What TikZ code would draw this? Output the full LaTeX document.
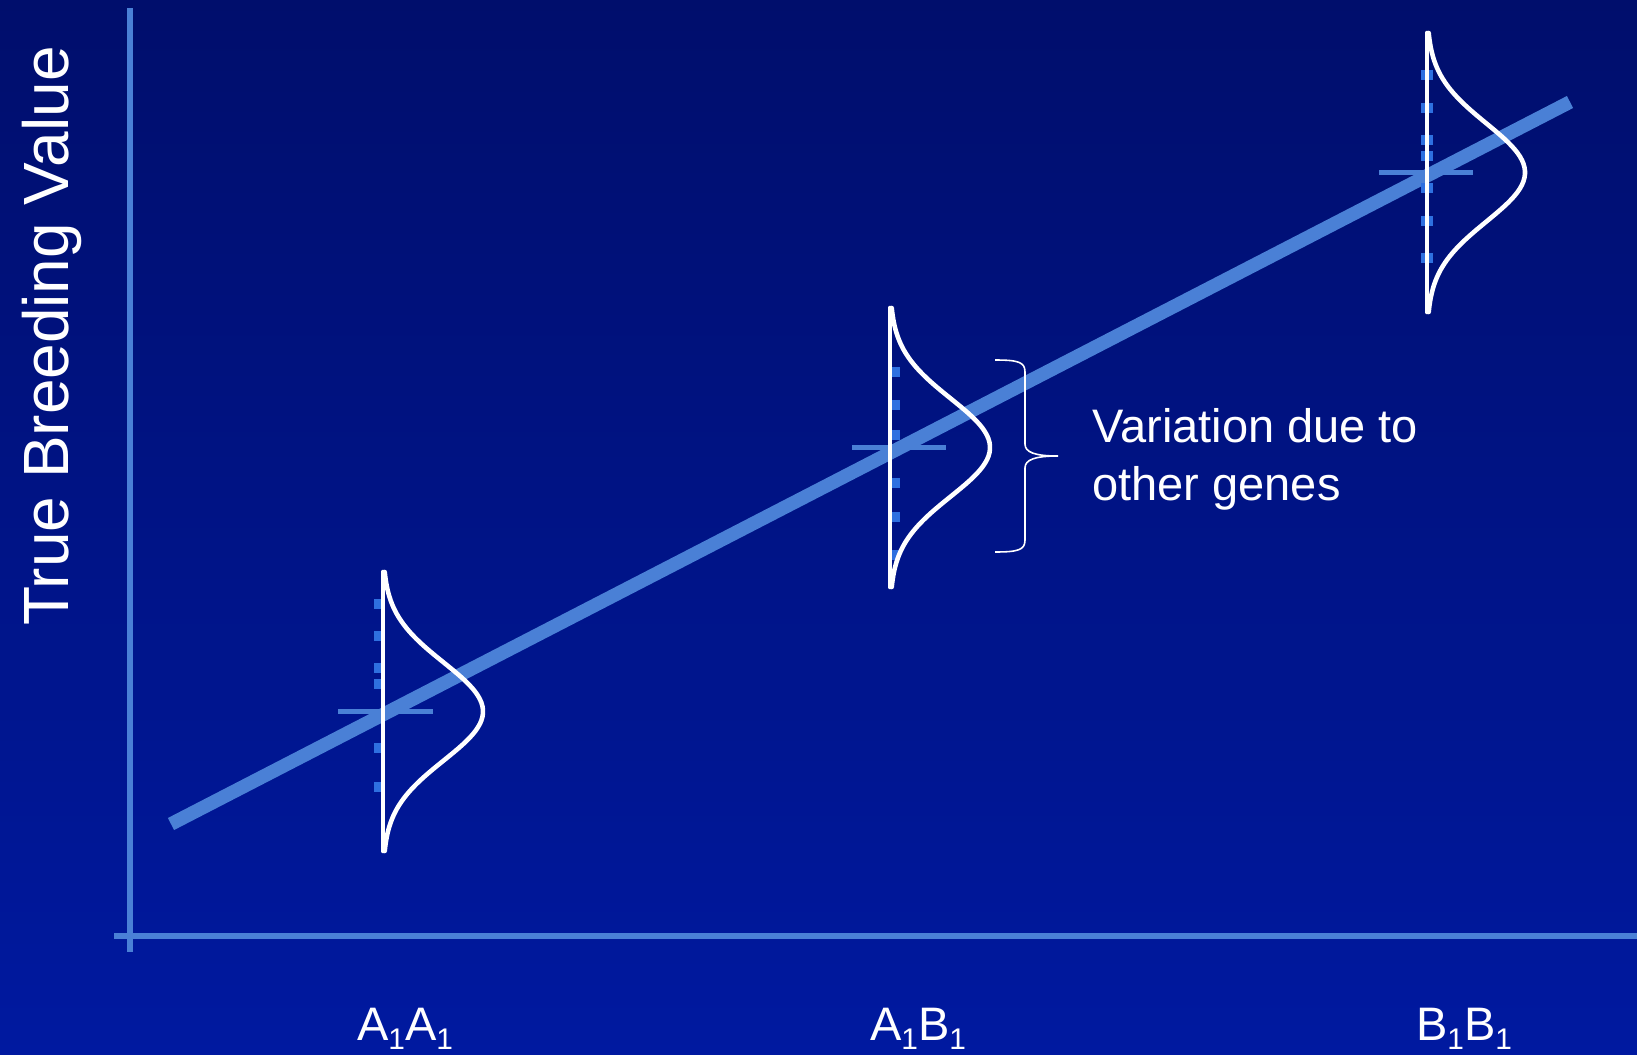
\documentclass[tikz,border=0pt]{standalone}
\usepackage{fontspec}
\setmainfont{Liberation Sans}
\usepackage{tikz}
\usetikzlibrary{calc}
\usepackage{xcolor}
\definecolor{slidetop}{RGB}{0,14,108}
\definecolor{slidebot}{RGB}{0,25,160}
\definecolor{axisblue}{RGB}{74,128,214}
\definecolor{tickblue}{RGB}{46,112,224}
\newcommand{\lowsub}[1]{\raisebox{-5.3pt}{\fontsize{17}{18}\selectfont #1}}

\begin{document}
\begin{tikzpicture}[x=0.02cm, y=-0.02cm,
    axisline/.style={line width=3.1pt, axisblue},
    fitline/.style={line width=7.7pt, axisblue},
    meantick/.style={line width=2.6pt, axisblue},
    bellline/.style={line width=2.6pt, white, line cap=round, line join=round},
    bracestroke/.style={line width=0.9pt, white},
    genolabel/.style={white, font=\fontsize{26.75}{30}\selectfont, anchor=base, inner sep=0pt}]
    % Background
    \shade[top color=slidetop, bottom color=slidebot] (0,0) rectangle (1637,1055);
    \useasboundingbox (0,0) rectangle (1637,1055);

    % Axes
    \draw[axisline] (130,8) -- (130,952);
    \draw[axisline] (114,936) -- (1637,936);
    \node[rotate=90, anchor=base, white, inner sep=0pt, font=\fontsize{36.4}{40}\selectfont] (ylabel) at (68,336) {True Breeding Value};

    % Regression line
    \draw[fitline] (171,824) -- (1570,102);

    % A1A1
    \begin{scope}[shift={(383,711.5)}]
        \draw[meantick] (-45,0) -- (50,0);
        \foreach \d in {-108,-76,-44,-28,36,75}
            \fill[tickblue] (-9,\d-5) rectangle (2,\d+5);
        \draw[bellline] (0,-139.5) -- (0,139.5);
        \draw[bellline] plot[domain=-139.5:139.5, samples=80] ({100*exp(-(\x/49)^2/2)}, \x);
    \end{scope}

    % A1B1
    \begin{scope}[shift={(890,447.5)}]
        \draw[meantick] (-38,0) -- (56,0);
        \foreach \d in {-76,-43,-13,35,69,107}
            \fill[tickblue] (0,\d-5) rectangle (10,\d+5);
        \draw[bellline] (0,-139.5) -- (0,139.5);
        \draw[bellline] plot[domain=-139.5:139.5, samples=80] ({100*exp(-(\x/49)^2/2)}, \x);
    \end{scope}

    % B1B1
    \begin{scope}[shift={(1427,172.5)}]
        \draw[meantick] (-48,0) -- (46,0);
        \foreach \d in {-98,-65,-33,-17,15,48,85}
            \fill[tickblue] (-6,\d-5) rectangle (6,\d+5);
        \draw[bellline] (0,-139.5) -- (0,139.5);
        \draw[bellline] plot[domain=-139.5:139.5, samples=80] ({98*exp(-(\x/49)^2/2)}, \x);
    \end{scope}

    % Brace and note
    \draw[bracestroke] (995,360) .. controls (1018,360) and (1025,362) .. (1025,372)
        -- (1025,444) .. controls (1025,452) and (1034,456) .. (1058,456)
        .. controls (1034,456) and (1025,460) .. (1025,468)
        -- (1025,540) .. controls (1025,550) and (1018,552) .. (995,552);
    \node[anchor=base west, align=left, white, inner sep=0pt, font=\fontsize{26.75}{33}\selectfont] (varnote) at (1092,500) {Variation due to\\other genes};

    % Genotypes
    \node[genolabel] (lblAA) at (405,1040) {A\lowsub{1}A\lowsub{1}};
    \node[genolabel] (lblAB) at (918,1040) {A\lowsub{1}B\lowsub{1}};
    \node[genolabel] (lblBB) at (1464,1040) {B\lowsub{1}B\lowsub{1}};
\end{tikzpicture}
\end{document}
